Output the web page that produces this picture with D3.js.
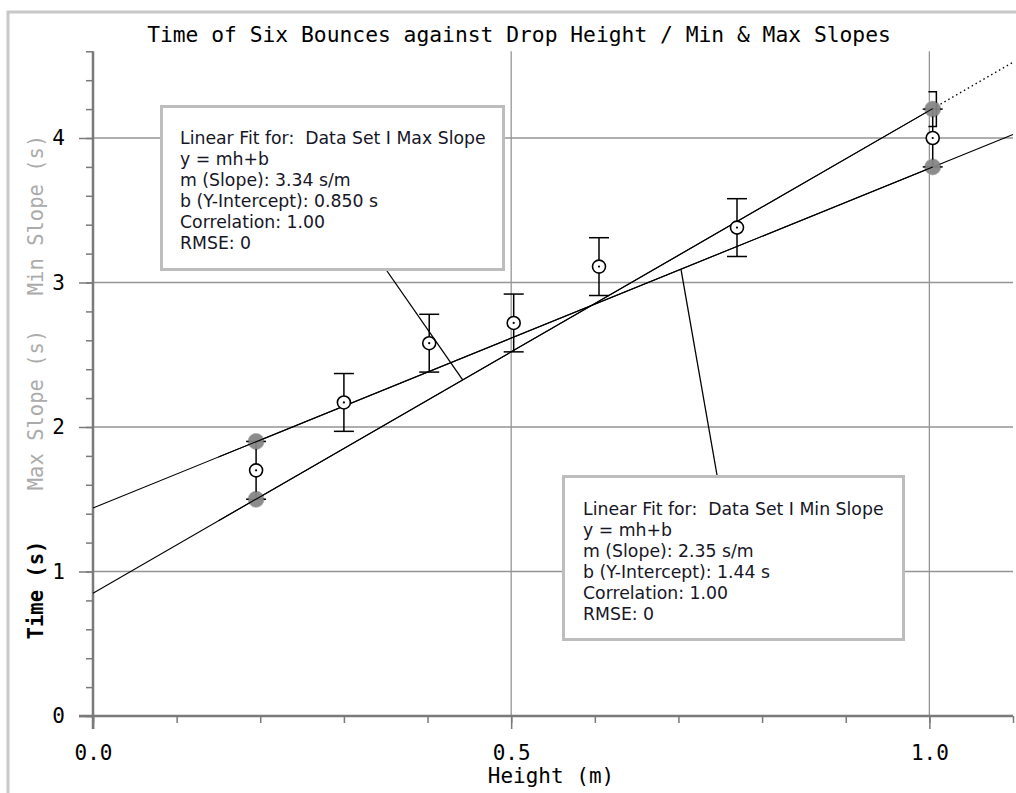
<!DOCTYPE html>
<html>
<head>
<meta charset="utf-8">
<script src="https://cdn.jsdelivr.net/npm/d3@7"></script>
<style>
  html, body { margin: 0; padding: 0; background: #fff; }
  svg { display: block; }
  .mono { font-family: "DejaVu Sans Mono", monospace; }
  .fitbox text { font-family: "Lucida Grande", "DejaVu Sans", sans-serif; font-size: 17.3px; fill: #161626; }
</style>
</head>
<body>
<svg id="chart" width="1016" height="793"></svg>
<script>
// data
var heights = [0.195, 0.30, 0.402, 0.503, 0.605, 0.77, 1.004];
var times = [1.70, 2.17, 2.58, 2.72, 3.11, 3.38, 4.00];
var timeErr = [0.2, 0.2, 0.2, 0.2, 0.2, 0.2, 0.2];

var maxSlopeH = [0.195, 1.004];
var maxSlopeT = [1.5, 4.2];
var minSlopeH = [0.195, 1.004];
var minSlopeT = [1.9, 3.8];

var fitNames = ["Max Slope", "Min Slope"];
var fitSlope = [3.34, 2.35];
var fitIntercept = [0.850, 1.44];
var fitSlopeText = ["3.34", "2.35"];
var fitInterceptText = ["0.850", "1.44"];

var yTicks = [0, 1, 2, 3, 4];
var xTicks = [0.0, 0.5, 1.0];

var svg = d3.select("#chart");
var x = d3.scaleLinear().domain([0, 1.1]).range([93, 1013]);
var y = d3.scaleLinear().domain([0, 4.6]).range([716, 51.3]);

// outer frame
svg.append("path")
  .attr("d", "M8,800V12H1020")
  .attr("fill", "none").attr("stroke", "#c8c8c8").attr("stroke-width", 3);

// grid
var grid = svg.append("g");
grid.selectAll("line.hy").data(yTicks.filter(function(d){ return d > 0; })).enter()
  .append("line").attr("class", "hy")
  .attr("x1", x(0)).attr("x2", x(1.1))
  .attr("y1", function(d){ return y(d); }).attr("y2", function(d){ return y(d); })
  .attr("stroke", "#959595").attr("stroke-width", 1.3);
grid.selectAll("line.vx").data(xTicks.filter(function(d){ return d > 0; })).enter()
  .append("line").attr("class", "vx")
  .attr("y1", y(0)).attr("y2", y(4.6))
  .attr("x1", function(d){ return x(d); }).attr("x2", function(d){ return x(d); })
  .attr("stroke", "#959595").attr("stroke-width", 1.3);

// axes
var yMinor = svg.append("g").attr("transform", "translate(" + x(0) + ",0)")
  .call(d3.axisLeft(y).tickValues(d3.range(0, 4.61, 0.2)).tickSize(7).tickFormat(""));
var yMajor = svg.append("g").attr("transform", "translate(" + x(0) + ",0)")
  .call(d3.axisLeft(y).tickValues(yTicks).tickSize(14).tickPadding(14).tickFormat(d3.format("d")));
var xMinor = svg.append("g").attr("transform", "translate(0," + y(0) + ")")
  .call(d3.axisBottom(x).tickValues(d3.range(0, 1.11, 0.1)).tickSize(7).tickFormat(""));
var xMajor = svg.append("g").attr("transform", "translate(0," + y(0) + ")")
  .call(d3.axisBottom(x).tickValues(xTicks).tickSize(13).tickPadding(16).tickFormat(d3.format(".1f")));

[yMinor, yMajor, xMinor, xMajor].forEach(function(g){
  g.select(".domain").remove();
  g.selectAll(".tick line").attr("stroke", "#7a7a7a").attr("stroke-width", 1.5);
  g.selectAll(".tick text").attr("class", "mono").attr("font-size", 21).attr("fill", "#000");
});
svg.append("line").attr("x1", x(0)).attr("x2", x(0)).attr("y1", y(4.6)).attr("y2", y(0) + 13)
  .attr("stroke", "#7a7a7a").attr("stroke-width", 2.5);
svg.append("line").attr("x1", x(0) - 14).attr("x2", x(1.1)).attr("y1", y(0)).attr("y2", y(0))
  .attr("stroke", "#7a7a7a").attr("stroke-width", 2.5);

// titles
svg.append("text").attr("class", "mono")
  .attr("x", 519).attr("y", 42).attr("text-anchor", "middle").attr("font-size", 21.3)
  .text("Time of Six Bounces against Drop Height / Min & Max Slopes");
svg.append("text").attr("class", "mono")
  .attr("x", 551).attr("y", 783).attr("text-anchor", "middle").attr("font-size", 21)
  .text("Height (m)");

var yLabels = [
  {t: "Time (s)", c: 590, col: "#000", w: "bold"},
  {t: "Max Slope (s)", c: 410, col: "#ababab", w: "normal"},
  {t: "Min Slope (s)", c: 215, col: "#ababab", w: "normal"}
];
svg.selectAll("text.ylab").data(yLabels).enter().append("text")
  .attr("class", "mono ylab")
  .attr("transform", function(d){ return "translate(43," + d.c + ") rotate(-90)"; })
  .attr("text-anchor", "middle").attr("font-size", 20.5)
  .attr("font-weight", function(d){ return d.w; })
  .attr("fill", function(d){ return d.col; })
  .text(function(d){ return d.t; });

// gray end points of the slope sets
var ends = maxSlopeH.map(function(h, i){ return [h, maxSlopeT[i]]; })
  .concat(minSlopeH.map(function(h, i){ return [h, minSlopeT[i]]; }));
svg.selectAll("circle.end").data(ends).enter().append("circle")
  .attr("class", "end")
  .attr("cx", function(d){ return x(d[0]); }).attr("cy", function(d){ return y(d[1]); })
  .attr("r", 8).attr("fill", "#8c8c8c").attr("stroke", "#b5b5b5").attr("stroke-width", 1);

// fit lines
var lastH = d3.max(maxSlopeH);
fitSlope.forEach(function(m, i){
  var b = fitIntercept[i];
  var solidTo = i === 0 ? lastH : 1.1;
  svg.append("line")
    .attr("x1", x(0)).attr("y1", y(b))
    .attr("x2", x(solidTo)).attr("y2", y(m * solidTo + b))
    .attr("stroke", "#000").attr("stroke-width", 1.1);
  if (solidTo < 1.1) {
    svg.append("line")
      .attr("x1", x(solidTo)).attr("y1", y(m * solidTo + b))
      .attr("x2", x(1.1)).attr("y2", y(m * 1.1 + b))
      .attr("stroke", "#000").attr("stroke-width", 1.2).attr("stroke-dasharray", "1.5,3");
  }
});

// error bars
var pts = heights.map(function(h, i){ return {h: h, t: times[i], e: timeErr[i]}; });
var eb = svg.append("g").attr("stroke", "#000").attr("stroke-width", 1.5);
pts.forEach(function(p){
  eb.append("line").attr("x1", x(p.h)).attr("x2", x(p.h))
    .attr("y1", y(p.t - p.e)).attr("y2", y(p.t + p.e));
  [p.t - p.e, p.t + p.e].forEach(function(v){
    eb.append("line").attr("x1", x(p.h) - 10).attr("x2", x(p.h) + 10)
      .attr("y1", y(v)).attr("y2", y(v));
  });
});
// small bracket drawn above the last point
eb.append("path").attr("fill", "none")
  .attr("d", "M" + (x(1.0) - 1) + "," + y(4.32) + "H" + (x(1.0) + 7) + "V" + y(4.08) + "H" + (x(1.0) - 1));

// the gray dots over the error bar caps they hide
svg.selectAll("circle.end2").data(ends).enter().append("circle")
  .attr("cx", function(d){ return x(d[0]); }).attr("cy", function(d){ return y(d[1]); })
  .attr("r", 7.5).attr("fill", "#8c8c8c").attr("opacity", 0.9);
fitSlope.forEach(function(m, i){
  var b = fitIntercept[i];
  svg.append("line")
    .attr("x1", x(0.15)).attr("y1", y(m * 0.15 + b))
    .attr("x2", x(lastH)).attr("y2", y(m * lastH + b))
    .attr("stroke", "#000").attr("stroke-width", 1.1);
});

// data markers
var mk = svg.selectAll("g.pt").data(pts).enter().append("g")
  .attr("transform", function(d){ return "translate(" + x(d.h) + "," + y(d.t) + ")"; });
mk.append("circle").attr("r", 6.5).attr("fill", "#fff").attr("stroke", "#000").attr("stroke-width", 1.6);
mk.append("circle").attr("r", 1.1).attr("fill", "#000");

// fit boxes with leaders
var boxes = [
  {i: 0, x0: 160, y0: 105, x1: 505, y1: 271, tx: 180, ty: 144, lx: 387, ly: 271, at: 0.442},
  {i: 1, x0: 562, y0: 475, x1: 905, y1: 641, tx: 583, ty: 515, lx: 717, ly: 475, at: 0.703}
];
boxes.forEach(function(bx){
  var m = fitSlope[bx.i], b = fitIntercept[bx.i];
  svg.append("line").attr("x1", bx.lx).attr("y1", bx.ly)
    .attr("x2", x(bx.at)).attr("y2", y(m * bx.at + b))
    .attr("stroke", "#000").attr("stroke-width", 1.3);
  var g = svg.append("g").attr("class", "fitbox");
  g.append("rect").attr("x", bx.x0 + 1.5).attr("y", bx.y0 + 1.5)
    .attr("width", bx.x1 - bx.x0 - 3).attr("height", bx.y1 - bx.y0 - 3)
    .attr("fill", "#fff").attr("stroke", "#bdbdbd").attr("stroke-width", 3);
  var lines = [
    "Linear Fit for:\u00a0\u00a0Data Set I " + fitNames[bx.i],
    "y = mh+b",
    "m (Slope): " + fitSlopeText[bx.i] + " s/m",
    "b (Y-Intercept): " + fitInterceptText[bx.i] + " s",
    "Correlation: 1.00",
    "RMSE: 0"
  ];
  g.selectAll("text").data(lines).enter().append("text")
    .attr("x", bx.tx).attr("y", function(d, k){ return bx.ty + k * 21; })
    .text(function(d){ return d; });
});
</script>
</body>
</html>
